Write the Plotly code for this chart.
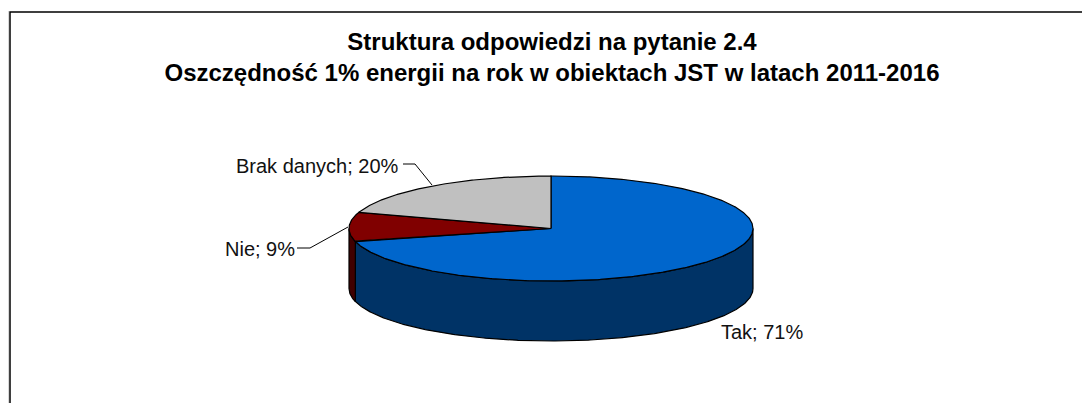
import numpy as np
import plotly.graph_objects as go

categories = ["Tak", "Nie", "Brak danych"]
values = [71, 9, 20]
top_colors = ["#0066CC", "#800000", "#C0C0C0"]
side_colors = ["#003366", "#400000", "#606060"]
title_lines = ["Struktura odpowiedzi na pytanie 2.4",
               "Oszczędność 1% energii na rok w obiektach JST w latach 2011-2016"]

W, H = 1082, 403
CX, CY, RX, RY, DEPTH = 551.0, 228.5, 202.0, 52.5, 60.0


def arc(a0, a1, dy=0.0):
    t = np.radians(np.linspace(a0, a1, max(int(abs(a1 - a0)) * 2, 2) + 1))
    return CX + RX * np.sin(t), CY + RY * np.cos(t) * -1 + dy


fig = go.Figure()
edges = np.cumsum([0] + values) / sum(values) * 360.0

for i in range(len(values)):
    a0, a1 = max(edges[i], 90.0), min(edges[i + 1], 270.0)
    if a1 <= a0:
        continue
    xt, yt = arc(a0, a1)
    xb, yb = arc(a1, a0, DEPTH)
    fig.add_trace(go.Scatter(
        x=np.r_[xt, xb, xt[0]], y=np.r_[yt, yb, yt[0]], mode="lines", fill="toself",
        fillcolor=side_colors[i], line=dict(color="black", width=1.2),
        hoverinfo="skip", showlegend=False))

for i in range(len(values)):
    xa, ya = arc(edges[i], edges[i + 1])
    fig.add_trace(go.Scatter(
        x=np.r_[CX, xa, CX], y=np.r_[CY, ya, CY], mode="lines", fill="toself",
        fillcolor=top_colors[i], line=dict(color="black", width=1.2),
        name=categories[i], showlegend=False))

leaders = {"Brak danych": ([403, 415, 432], [164, 164, 185]),
           "Nie": ([297, 310, 348], [248, 248, 227])}
for k, (lx, ly) in leaders.items():
    fig.add_trace(go.Scatter(x=lx, y=ly, mode="lines", line=dict(color="black", width=1),
                             hoverinfo="skip", showlegend=False))

fig.add_trace(go.Scatter(x=[8.5, 8.5], y=[403, 11], mode="lines",
                         line=dict(color="#D8D8D8", width=1), hoverinfo="skip", showlegend=False))
fig.add_trace(go.Scatter(x=[10, 10, 1082], y=[403, 12, 12], mode="lines",
                         line=dict(color="black", width=1.5), hoverinfo="skip", showlegend=False))

label_pos = {"Tak": (762, 332, "center"), "Nie": (260, 249, "center"), "Brak danych": (317, 166, "center")}
font = dict(family="Liberation Sans, Arial, sans-serif", size=20, color="#111111")
for c, v in zip(categories, values):
    x, y, anc = label_pos[c]
    fig.add_annotation(x=x, y=y, xref="x", yref="y", text=f"{c}; {v}%", showarrow=False,
                       xanchor=anc, yanchor="middle", font=font)

fig.update_layout(
    width=W, height=H, margin=dict(l=0, r=0, t=0, b=0),
    paper_bgcolor="white", plot_bgcolor="white", showlegend=False,
    title=dict(text="<b>" + "<br>".join(title_lines) + "</b>", x=552 / W, xanchor="center",
               y=1 - 50 / H, yanchor="top",
               font=dict(family="Liberation Sans, Arial, sans-serif", size=24, color="black")),
    xaxis=dict(range=[0, W], visible=False, fixedrange=True),
    yaxis=dict(range=[H, 0], visible=False, fixedrange=True),
)
fig.write_html("out.html", config={"displayModeBar": False},
               post_script="document.body.style.margin='0';document.documentElement.style.overflow='hidden';")
